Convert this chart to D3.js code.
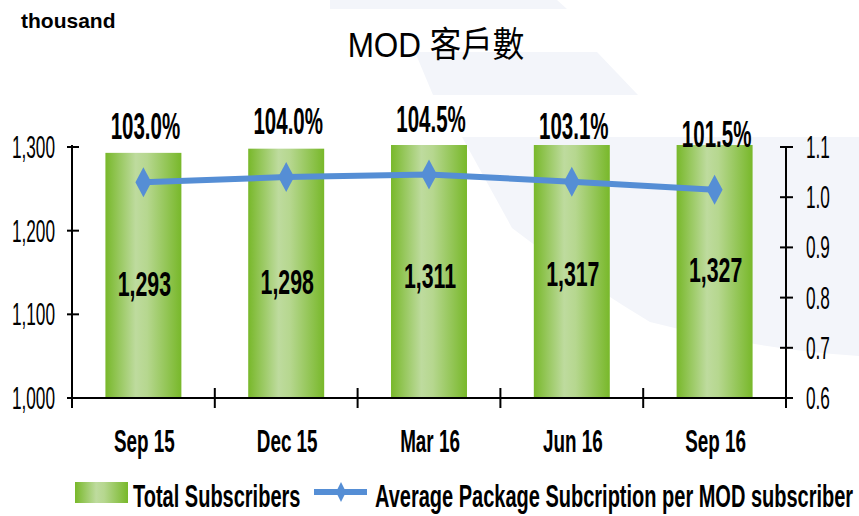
<!DOCTYPE html>
<html>
<head>
<meta charset="utf-8">
<script src="https://cdn.jsdelivr.net/npm/d3@7"></script>
<style>
  html, body { margin: 0; padding: 0; background: #ffffff; }
  svg { display: block; }
</style>
</head>
<body>
<svg id="chart" width="859" height="516"></svg>
<script>
const categories = ["Sep 15", "Dec 15", "Mar 16", "Jun 16", "Sep 16"];
const subscribers = [1293, 1298, 1311, 1317, 1327];
const avgPackages = [1.030, 1.040, 1.045, 1.031, 1.015];
const leftTicks = [1000, 1100, 1200, 1300];
const rightTicks = [0.6, 0.7, 0.8, 0.9, 1.0, 1.1];
const titleText = "MOD 客戶數";
const unitText = "thousand";
const legendLabels = ["Total Subscribers", "Average Package Subcription per MOD subscriber"];

(function () {
const plotL = 72, plotR = 786, plotT = 147, plotB = 398;
const svg = d3.select("#chart");
const sans = "'Liberation Sans', Arial, 'Noto Sans CJK TC', sans-serif";
const NX = 0.82; // narrow compression

const x = d3.scaleBand().domain(categories).range([plotL, plotR]).paddingInner(0.468).paddingOuter(0.234);
const yL = d3.scaleLinear().domain([1000, 1300]).range([plotB, plotT]);
const yR = d3.scaleLinear().domain([0.6, 1.1]).range([plotB, plotT]);
const pct = d3.format(".1%");
const thousands = d3.format(",");
const cx = c => x(c) + x.bandwidth() / 2;

const defs = svg.append("defs");
const grad = defs.append("linearGradient").attr("id", "barGrad").attr("x1", "0").attr("x2", "1").attr("y1", "0").attr("y2", "0");
grad.append("stop").attr("offset", "0").attr("stop-color", "#78b82a");
grad.append("stop").attr("offset", "0.40").attr("stop-color", "#bedb9e");
grad.append("stop").attr("offset", "0.55").attr("stop-color", "#b6d78f");
grad.append("stop").attr("offset", "1").attr("stop-color", "#78b82a");
defs.append("clipPath").attr("id", "plotClip").append("rect")
  .attr("x", plotL).attr("y", yL(1302.5)).attr("width", plotR - plotL).attr("height", plotB - yL(1302.5));

// faint watermark background
const wm = svg.append("g").attr("fill", "#f3f5fa");
wm.append("path").attr("d", "M330,0 L557,0 L567,9 L330,9 Z");
wm.append("path").attr("d", "M415,52 L597,52 L638,95 L433,95 Z");
wm.append("path").attr("d", "M462,137 L859,137 L859,356 Q760,350 650,322 Q580,280 512,228 Z");

// bars
svg.append("g").attr("clip-path", "url(#plotClip)")
  .selectAll("rect").data(categories).join("rect")
  .attr("x", d => x(d))
  .attr("width", x.bandwidth())
  .attr("y", (d, i) => yL(subscribers[i]))
  .attr("height", (d, i) => plotB - yL(subscribers[i]))
  .attr("fill", "url(#barGrad)");

// axes
const axes = svg.append("g").attr("stroke", "#000").attr("stroke-width", 2).attr("fill", "none");
axes.append("line").attr("x1", plotL).attr("x2", plotL).attr("y1", plotT - 2).attr("y2", plotB + 10);
axes.append("line").attr("x1", plotR).attr("x2", plotR).attr("y1", plotT - 1).attr("y2", plotB + 10);
axes.append("line").attr("x1", plotL - 4).attr("x2", plotR + 4).attr("y1", plotB).attr("y2", plotB);
axes.selectAll(".lt").data(leftTicks).join("line").attr("class", "lt")
  .attr("x1", plotL - 5).attr("x2", plotL + 7).attr("y1", d => yL(d)).attr("y2", d => yL(d));
axes.selectAll(".rt").data(rightTicks).join("line").attr("class", "rt")
  .attr("x1", plotR - 6).attr("x2", plotR + 7).attr("y1", d => yR(d)).attr("y2", d => yR(d));
const bounds = d3.range(categories.length + 1).map(i => plotL + i * x.step());
axes.selectAll(".xt").data(bounds).join("line").attr("class", "xt")
  .attr("x1", d => d).attr("x2", d => d).attr("y1", plotB - 10).attr("y2", plotB + 10);

function stretched(g, txt, tx, ty, sx, sy, anchor) {
  return g.append("text").attr("transform", `translate(${tx},${ty}) scale(${sx},${sy})`)
    .attr("text-anchor", anchor).text(txt);
}

// left tick labels
const lg = svg.append("g").attr("font-family", sans).attr("font-size", 21).attr("fill", "#000");
leftTicks.forEach(v => stretched(lg, thousands(v), 55, yL(v) + 11, NX, 1.45, "end"));
// right tick labels
const rg = svg.append("g").attr("font-family", sans).attr("font-size", 21).attr("fill", "#000");
rightTicks.forEach(v => stretched(rg, d3.format(".1f")(v), 806, yR(v) + 11, NX, 1.45, "start"));

// x labels
const xg = svg.append("g").attr("font-family", sans).attr("font-size", 23).attr("font-weight", "bold").attr("fill", "#000");
categories.forEach(c => stretched(xg, c, cx(c) + 1, 452, NX, 1.38, "middle"));

// bar value labels
const bg = svg.append("g").attr("font-family", sans).attr("font-size", 26).attr("font-weight", "bold").attr("fill", "#000");
categories.forEach((c, i) => stretched(bg, thousands(subscribers[i]), cx(c) + 1,
  (plotB + yL(subscribers[i])) / 2 + 20.5, NX, 1.38, "middle"));

// line
const line = d3.line().x((d, i) => cx(categories[i])).y(d => yR(d));
svg.append("path").datum(avgPackages).attr("d", line)
  .attr("fill", "none").attr("stroke", "#558ed5").attr("stroke-width", 6).attr("stroke-linejoin", "round");
const diamond = (px, py, hw, hh) => `M${px},${py - hh} L${px + hw},${py} L${px},${py + hh} L${px - hw},${py} Z`;
svg.append("g").selectAll("path").data(avgPackages).join("path")
  .attr("d", (d, i) => diamond(cx(categories[i]), yR(d), 8, 15))
  .attr("fill", "#558ed5");

// percent labels
const pg = svg.append("g").attr("font-family", sans).attr("font-size", 25).attr("font-weight", "bold").attr("fill", "#000");
categories.forEach((c, i) => stretched(pg, pct(avgPackages[i]), cx(c) + 2, yR(avgPackages[i]) - 43, NX, 1.45, "middle"));

// title & unit
svg.append("text").attr("transform", "translate(436,57) scale(1,1.12)").attr("text-anchor", "middle")
  .attr("font-family", sans).attr("font-size", 31.5).attr("fill", "#000").text(titleText);
svg.append("text").attr("x", 21).attr("y", 28).attr("font-family", sans).attr("font-size", 21)
  .attr("font-weight", "bold").attr("fill", "#000").text(unitText);

// legend
const leg = svg.append("g");
leg.append("rect").attr("x", 75).attr("y", 482).attr("width", 53).attr("height", 21).attr("fill", "url(#barGrad)");
leg.append("line").attr("x1", 314).attr("x2", 367).attr("y1", 492).attr("y2", 492)
  .attr("stroke", "#558ed5").attr("stroke-width", 6);
leg.append("path").attr("d", diamond(341, 492, 5, 10)).attr("fill", "#558ed5");
const legText = leg.append("g").attr("font-family", sans).attr("font-size", 24.4).attr("font-weight", "bold").attr("fill", "#000");
stretched(legText, legendLabels[0], 133, 507, NX, 1.3, "start");
stretched(legText, legendLabels[1], 375, 507, NX, 1.3, "start");
})();
</script>
</body>
</html>
